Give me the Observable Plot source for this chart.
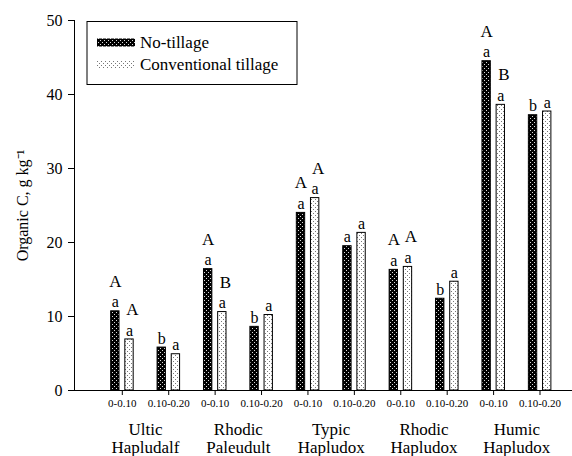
<!DOCTYPE html>
<html><head><meta charset="utf-8">
<script src="https://cdn.jsdelivr.net/npm/d3@7"></script>
<script src="https://cdn.jsdelivr.net/npm/@observablehq/plot@0.6"></script>
<style>
html,body{margin:0;padding:0;background:#fff;}
#chart{width:572px;height:456px;}
</style></head><body><div id="chart"></div>
<script>
const soils = ["Ultic\nHapludalf","Rhodic\nPaleudult","Typic\nHapludox","Rhodic\nHapludox","Humic\nHapludox"];
const depths = ["0-0.10","0.10-0.20"];
const treatments = ["No-tillage","Conventional tillage"];
const noTillage = [10.7,5.8,16.4,8.6,24.0,19.5,16.3,12.4,44.5,37.2];
const conventional = [6.9,4.9,10.6,10.2,26.0,21.3,16.7,14.7,38.6,37.7];
const lowerNT = ["a","b","a","b","a","a","a","b","a","b"];
const lowerCT = ["a","a","a","a","a","a","a","a","a","a"];
const upperNT = ["A","","A","","A","","A","","A",""];
const upperCT = ["A","","B","","A","","A","","B",""];
const yTicks = [0,10,20,30,40,50];

const font = "'Liberation Serif','Times New Roman',serif";
const rows = noTillage.map((v,i)=>({pos:i+1, nt:v, ct:conventional[i], lnt:lowerNT[i], lct:lowerCT[i], unt:upperNT[i], uct:upperCT[i]}));
const groups = soils.map((s,k)=>({mid:2*k+1.5, name:s}));
const xTicks = rows.map(d=>d.pos);

const plot = Plot.plot({
  width:572, height:456, marginTop:20, marginBottom:66, marginLeft:74, marginRight:0,
  style:{fontFamily:font, fontSize:"15px", color:"#000", background:"#fff"},
  x:{domain:[-0.03,10.7]},
  y:{domain:[0,50]},
  marks:[
    Plot.rectY(rows,{x1:d=>d.pos-0.24, x2:d=>d.pos-0.06, y1:()=>0, y2:"nt", fill:"url(#patNT)", stroke:"#000", strokeWidth:1}),
    Plot.rectY(rows,{x1:d=>d.pos+0.065, x2:d=>d.pos+0.245, y1:()=>0, y2:"ct", fill:"url(#patCT)", stroke:"#000", strokeWidth:1}),
    Plot.axisY({ticks:yTicks, tickSize:6, tickPadding:6, fontSize:16, label:"Organic C, g kg\u207B\u00B9", labelAnchor:"center", labelArrow:"none", labelOffset:58}),
    Plot.axisX({ticks:xTicks, tickFormat:d=>depths[(d-1)%2], tickSize:5, tickPadding:4, fontSize:11, label:null}),
    Plot.frame({anchor:"left"}),
    Plot.frame({anchor:"bottom"}),
    Plot.text(groups,{x:"mid", y:()=>0, text:"name", lineAnchor:"top", dy:31, fontSize:17, lineHeight:1.1}),
    Plot.text(rows,{x:d=>d.pos-0.15, y:"nt", text:"lnt", dy:-9, fontSize:16}),
    Plot.text(rows,{x:d=>d.pos+0.155, y:"ct", text:"lct", dy:-9, fontSize:16}),
    Plot.text(rows,{x:d=>d.pos-0.15, y:"nt", text:"unt", dy:-30, fontSize:17}),
    Plot.text(rows,{x:d=>d.pos+0.22, y:"ct", text:"uct", dy:-30, fontSize:17})
  ]
});
document.getElementById("chart").appendChild(plot);

const svg = d3.select(plot);
const defs = svg.insert("defs", ":first-child");
const p1 = defs.append("pattern").attr("id","patNT").attr("patternUnits","userSpaceOnUse").attr("width",4).attr("height",4);
p1.append("rect").attr("width",4).attr("height",4).attr("fill","#000");
p1.append("rect").attr("x",0).attr("y",0).attr("width",1).attr("height",1).attr("fill","#ddd");
p1.append("rect").attr("x",2).attr("y",2).attr("width",1).attr("height",1).attr("fill","#ddd");
const p2 = defs.append("pattern").attr("id","patCT").attr("patternUnits","userSpaceOnUse").attr("width",4).attr("height",4);
p2.append("rect").attr("width",4).attr("height",4).attr("fill","#fff");
p2.append("rect").attr("x",1).attr("y",1).attr("width",1).attr("height",1).attr("fill","#777");
p2.append("rect").attr("x",3).attr("y",3).attr("width",1).attr("height",1).attr("fill","#777");

const lg = svg.append("g").attr("font-family", font).attr("font-size", 17).attr("text-anchor","start");
lg.append("rect").attr("x",87).attr("y",21.5).attr("width",210).attr("height",63).attr("fill","#fff").attr("stroke","#000");
treatments.forEach((t,i)=>{
  const cy = 42.5 + i*22;
  lg.append("rect").attr("x",97).attr("y",cy-4).attr("width",38).attr("height",8).attr("fill", i===0?"url(#patNT)":"url(#patCT)");
  lg.append("text").attr("x",140).attr("y",cy).attr("dy","0.35em").attr("fill","#000").text(t);
});
</script></body></html>
